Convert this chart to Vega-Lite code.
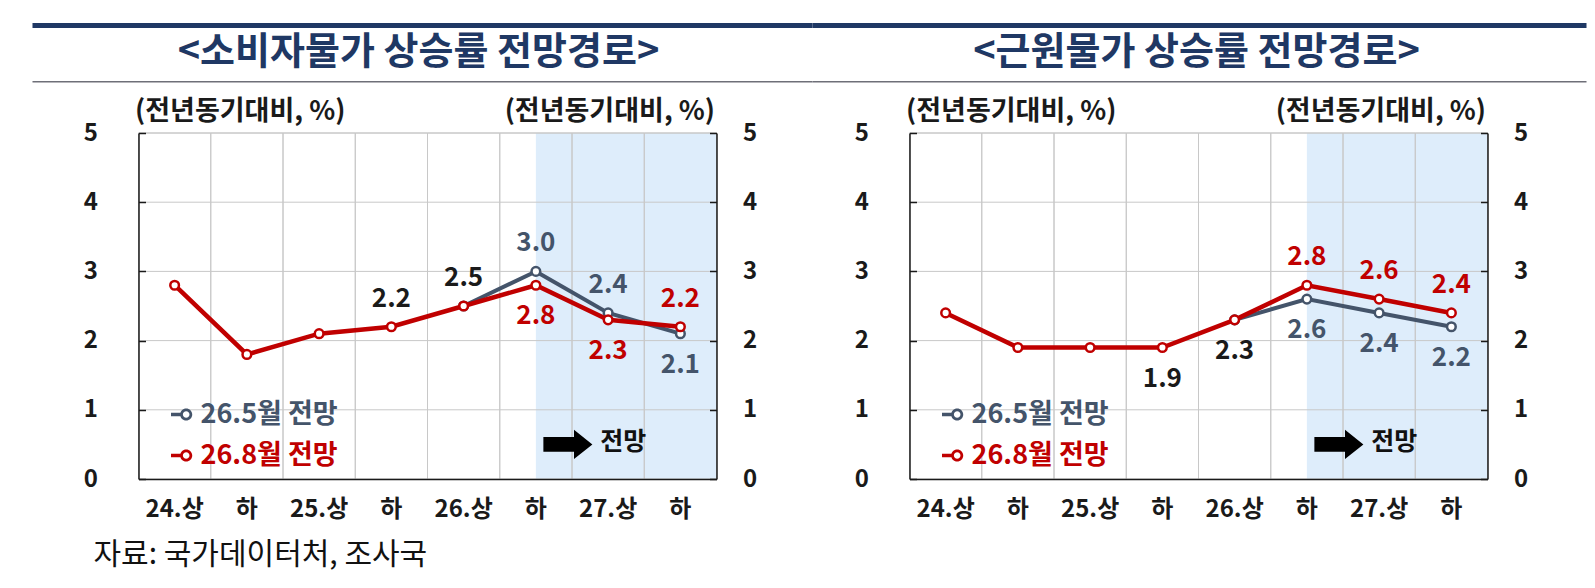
{
  "$schema": "https://vega.github.io/schema/vega-lite/v6.json",
  "background": "white",
  "padding": {"left": 29.5, "top": 23, "right": 0, "bottom": 15},
  "spacing": 193,
  "bounds": "flush",
  "config": {"view": {"stroke": null}, "font": "Noto Sans CJK KR"},
  "resolve": {"legend": {"color": "independent"}},
  "datasets": {
    "periods": [
      {"period": "24.상"}, {"period": "24.하"}, {"period": "25.상"}, {"period": "25.하"},
      {"period": "26.상"}, {"period": "26.하"}, {"period": "27.상"}, {"period": "27.하"}
    ],
    "hgrid": [{"g": 1}, {"g": 2}, {"g": 3}, {"g": 4}, {"g": 5}],
    "series": [
      {"panel": "cpi", "series": "26.5월 전망", "period": "26.상", "v": 2.5},
      {"panel": "cpi", "series": "26.5월 전망", "period": "26.하", "v": 3.0},
      {"panel": "cpi", "series": "26.5월 전망", "period": "27.상", "v": 2.4},
      {"panel": "cpi", "series": "26.5월 전망", "period": "27.하", "v": 2.1},
      {"panel": "cpi", "series": "26.8월 전망", "period": "24.상", "v": 2.8},
      {"panel": "cpi", "series": "26.8월 전망", "period": "24.하", "v": 1.8},
      {"panel": "cpi", "series": "26.8월 전망", "period": "25.상", "v": 2.1},
      {"panel": "cpi", "series": "26.8월 전망", "period": "25.하", "v": 2.2},
      {"panel": "cpi", "series": "26.8월 전망", "period": "26.상", "v": 2.5},
      {"panel": "cpi", "series": "26.8월 전망", "period": "26.하", "v": 2.8},
      {"panel": "cpi", "series": "26.8월 전망", "period": "27.상", "v": 2.3},
      {"panel": "cpi", "series": "26.8월 전망", "period": "27.하", "v": 2.2},
      {"panel": "core", "series": "26.5월 전망", "period": "26.상", "v": 2.3},
      {"panel": "core", "series": "26.5월 전망", "period": "26.하", "v": 2.6},
      {"panel": "core", "series": "26.5월 전망", "period": "27.상", "v": 2.4},
      {"panel": "core", "series": "26.5월 전망", "period": "27.하", "v": 2.2},
      {"panel": "core", "series": "26.8월 전망", "period": "24.상", "v": 2.4},
      {"panel": "core", "series": "26.8월 전망", "period": "24.하", "v": 1.9},
      {"panel": "core", "series": "26.8월 전망", "period": "25.상", "v": 1.9},
      {"panel": "core", "series": "26.8월 전망", "period": "25.하", "v": 1.9},
      {"panel": "core", "series": "26.8월 전망", "period": "26.상", "v": 2.3},
      {"panel": "core", "series": "26.8월 전망", "period": "26.하", "v": 2.8},
      {"panel": "core", "series": "26.8월 전망", "period": "27.상", "v": 2.6},
      {"panel": "core", "series": "26.8월 전망", "period": "27.하", "v": 2.4}
    ],
    "labels": [
      {"panel": "cpi", "period": "25.하", "v": 2.2, "series": "실적", "side": "above"},
      {"panel": "cpi", "period": "26.상", "v": 2.5, "series": "실적", "side": "above"},
      {"panel": "cpi", "period": "26.하", "v": 3.0, "series": "26.5월 전망", "side": "above"},
      {"panel": "cpi", "period": "26.하", "v": 2.8, "series": "26.8월 전망", "side": "below"},
      {"panel": "cpi", "period": "27.상", "v": 2.4, "series": "26.5월 전망", "side": "above"},
      {"panel": "cpi", "period": "27.상", "v": 2.3, "series": "26.8월 전망", "side": "below"},
      {"panel": "cpi", "period": "27.하", "v": 2.2, "series": "26.8월 전망", "side": "above"},
      {"panel": "cpi", "period": "27.하", "v": 2.1, "series": "26.5월 전망", "side": "below"},
      {"panel": "core", "period": "25.하", "v": 1.9, "series": "실적", "side": "below"},
      {"panel": "core", "period": "26.상", "v": 2.3, "series": "실적", "side": "below"},
      {"panel": "core", "period": "26.하", "v": 2.8, "series": "26.8월 전망", "side": "above"},
      {"panel": "core", "period": "26.하", "v": 2.6, "series": "26.5월 전망", "side": "below"},
      {"panel": "core", "period": "27.상", "v": 2.6, "series": "26.8월 전망", "side": "above"},
      {"panel": "core", "period": "27.상", "v": 2.4, "series": "26.5월 전망", "side": "below"},
      {"panel": "core", "period": "27.하", "v": 2.4, "series": "26.8월 전망", "side": "above"},
      {"panel": "core", "period": "27.하", "v": 2.2, "series": "26.5월 전망", "side": "below"}
    ]
  },
  "hconcat": [
    {
      "width": 578, "height": 346,
      "resolve": {"scale": {"x": "independent", "y": "independent"}},
      "layer": [
        {
          "layer": [
            {"data": {"values": [{}]}, "mark": {"type": "rect", "color": "#deedfb"},
             "encoding": {"x": {"datum": "26.하", "type": "nominal", "scale": {"type": "band", "domain": ["24.상","24.하","25.상","25.하","26.상","26.하","27.상","27.하"], "paddingInner": 0, "paddingOuter": 0}}, "x2": {"value": "width"}}},
            {"data": {"name": "periods"}, "mark": {"type": "rect", "fillOpacity": 0, "stroke": "#c8c8c8", "strokeWidth": 1},
             "encoding": {"x": {"field": "period", "type": "nominal", "scale": {"type": "band", "domain": ["24.상","24.하","25.상","25.하","26.상","26.하","27.상","27.하"], "paddingInner": 0, "paddingOuter": 0},
               "axis": {"orient": "bottom", "grid": false, "ticks": false, "domainColor": "#1a1a1a", "domainWidth": 1.5, "labelPadding": 30, "labelFontSize": 24, "labelFontWeight": "bold", "labelColor": "#1a1a1a", "labelAngle": 0, "labelAlign": "center", "labelExpr": "indexof(datum.value, '하') >= 0 ? '하' : datum.value", "title": null, "zindex": 1}}}},
            {"data": {"name": "hgrid"}, "mark": {"type": "rule", "color": "#c8c8c8", "strokeWidth": 1},
             "encoding": {"y": {"field": "g", "type": "quantitative", "scale": {"domain": [0, 5]},
               "axis": {"orient": "left", "values": [0,1,2,3,4,5], "format": "d", "grid": false, "domainColor": "#1a1a1a", "domainWidth": 1.5, "tickSize": -7, "tickColor": "#1a1a1a", "tickWidth": 1.5, "labelPadding": 48, "labelFontSize": 24, "labelFontWeight": "bold", "labelColor": "#1a1a1a", "title": "(전년동기대비, %)", "titleAngle": 0, "titleAlign": "left", "titleBaseline": "middle", "titleX": -4, "titleY": -22, "titleFontSize": 27, "titleFontWeight": "bold", "titleColor": "#1a1a1a", "zindex": 1}}}},
            {"data": {"name": "series"}, "transform": [{"filter": "datum.panel == 'cpi' && datum.series == '26.5월 전망'"}], "mark": {"type": "line", "strokeWidth": 4},
             "encoding": {"x": {"field": "period", "type": "nominal", "scale": {"type": "band", "domain": ["24.상","24.하","25.상","25.하","26.상","26.하","27.상","27.하"], "paddingInner": 0, "paddingOuter": 0}},
               "y": {"field": "v", "type": "quantitative", "scale": {"domain": [0, 5]}},
               "color": {"field": "series", "type": "nominal", "scale": {"domain": ["실적", "26.5월 전망", "26.8월 전망"], "range": ["#1a1a1a", "#44546a", "#c00000"]},
                 "legend": {"orient": "none", "legendX": 30, "legendY": 268, "direction": "vertical", "title": null, "values": ["26.5월 전망", "26.8월 전망"], "padding": 0, "symbolType": "M-1,-0.16L-0.12,-0.16L-0.12,0.16L-1,0.16Z M0.93,0A0.55,0.55 0 1,1 -0.17,0A0.55,0.55 0 1,1 0.93,0Z M0.68,0A0.3,0.3 0 1,0 0.08,0A0.3,0.3 0 1,0 0.68,0Z", "symbolSize": 484, "symbolStrokeWidth": 0, "labelOffset": 5, "rowPadding": 13, "labelFontSize": 27, "labelFontWeight": "bold", "labelFont": "Noto Sans CJK KR",
                   "encode": {"labels": {"update": {"fill": {"scale": "color", "field": "value"}}}, "symbols": {"update": {"fill": {"scale": "color", "field": "value"}, "strokeWidth": {"value": 0}}}}}}}},
            {"data": {"name": "series"}, "transform": [{"filter": "datum.panel == 'cpi' && datum.series == '26.5월 전망'"}], "mark": {"type": "point", "filled": false, "fill": "white", "opacity": 1, "size": 75, "strokeWidth": 2.5},
             "encoding": {"x": {"field": "period", "type": "nominal", "scale": {"type": "band", "domain": ["24.상","24.하","25.상","25.하","26.상","26.하","27.상","27.하"], "paddingInner": 0, "paddingOuter": 0}},
               "y": {"field": "v", "type": "quantitative", "scale": {"domain": [0, 5]}},
               "color": {"field": "series", "type": "nominal", "scale": {"domain": ["실적", "26.5월 전망", "26.8월 전망"], "range": ["#1a1a1a", "#44546a", "#c00000"]}, "legend": null}}},
            {"data": {"name": "series"}, "transform": [{"filter": "datum.panel == 'cpi' && datum.series == '26.8월 전망'"}], "mark": {"type": "line", "strokeWidth": 4.5},
             "encoding": {"x": {"field": "period", "type": "nominal", "scale": {"type": "band", "domain": ["24.상","24.하","25.상","25.하","26.상","26.하","27.상","27.하"], "paddingInner": 0, "paddingOuter": 0}},
               "y": {"field": "v", "type": "quantitative", "scale": {"domain": [0, 5]}},
               "color": {"field": "series", "type": "nominal", "scale": {"domain": ["실적", "26.5월 전망", "26.8월 전망"], "range": ["#1a1a1a", "#44546a", "#c00000"]}, "legend": null}}},
            {"data": {"name": "series"}, "transform": [{"filter": "datum.panel == 'cpi' && datum.series == '26.8월 전망'"}], "mark": {"type": "point", "filled": false, "fill": "white", "opacity": 1, "size": 75, "strokeWidth": 2.5},
             "encoding": {"x": {"field": "period", "type": "nominal", "scale": {"type": "band", "domain": ["24.상","24.하","25.상","25.하","26.상","26.하","27.상","27.하"], "paddingInner": 0, "paddingOuter": 0}},
               "y": {"field": "v", "type": "quantitative", "scale": {"domain": [0, 5]}},
               "color": {"field": "series", "type": "nominal", "scale": {"domain": ["실적", "26.5월 전망", "26.8월 전망"], "range": ["#1a1a1a", "#44546a", "#c00000"]}, "legend": null}}},
            {"data": {"name": "labels"}, "transform": [{"filter": "datum.panel == 'cpi' && datum.side == 'above'"}], "mark": {"type": "text", "dy": -28, "fontSize": 26, "fontWeight": "bold"},
             "encoding": {"x": {"field": "period", "type": "nominal", "scale": {"type": "band", "domain": ["24.상","24.하","25.상","25.하","26.상","26.하","27.상","27.하"], "paddingInner": 0, "paddingOuter": 0}},
               "y": {"field": "v", "type": "quantitative", "scale": {"domain": [0, 5]}},
               "text": {"field": "v", "type": "quantitative", "format": ".1f"},
               "color": {"field": "series", "type": "nominal", "scale": {"domain": ["실적", "26.5월 전망", "26.8월 전망"], "range": ["#1a1a1a", "#44546a", "#c00000"]}, "legend": null}}},
            {"data": {"name": "labels"}, "transform": [{"filter": "datum.panel == 'cpi' && datum.side == 'below'"}], "mark": {"type": "text", "dy": 31, "fontSize": 26, "fontWeight": "bold"},
             "encoding": {"x": {"field": "period", "type": "nominal", "scale": {"type": "band", "domain": ["24.상","24.하","25.상","25.하","26.상","26.하","27.상","27.하"], "paddingInner": 0, "paddingOuter": 0}},
               "y": {"field": "v", "type": "quantitative", "scale": {"domain": [0, 5]}},
               "text": {"field": "v", "type": "quantitative", "format": ".1f"},
               "color": {"field": "series", "type": "nominal", "scale": {"domain": ["실적", "26.5월 전망", "26.8월 전망"], "range": ["#1a1a1a", "#44546a", "#c00000"]}, "legend": null}}},
            {"data": {"values": [{}]}, "mark": {"type": "point", "shape": "M-1,-0.3L0.25,-0.3L0.25,-0.6L1,0L0.25,0.6L0.25,0.3L-1,0.3Z", "size": 2401, "filled": true, "color": "#000000", "opacity": 1, "xOffset": 32},
             "encoding": {"x": {"datum": "26.하", "type": "nominal", "scale": {"type": "band", "domain": ["24.상","24.하","25.상","25.하","26.상","26.하","27.상","27.하"], "paddingInner": 0, "paddingOuter": 0}},
               "y": {"datum": 0.5, "type": "quantitative", "scale": {"domain": [0, 5]}}}},
            {"data": {"values": [{}]}, "mark": {"type": "text", "text": "전망", "fontSize": 25, "fontWeight": "bold", "color": "#111111", "dx": 15},
             "encoding": {"x": {"datum": "27.상", "type": "nominal", "scale": {"type": "band", "domain": ["24.상","24.하","25.상","25.하","26.상","26.하","27.상","27.하"], "paddingInner": 0, "paddingOuter": 0}},
               "y": {"datum": 0.535, "type": "quantitative", "scale": {"domain": [0, 5]}}}}
          ]
        },
        {
          "data": {"values": [{}]},
          "layer": [
            {"mark": {"type": "rule", "color": "#1f3864", "strokeWidth": 5},
             "encoding": {"x": {"datum": -0.1834, "type": "quantitative", "scale": {"domain": [0, 1]}, "axis": null}, "x2": {"datum": 1.1661},
               "y": {"datum": 6.553, "type": "quantitative", "scale": {"domain": [0, 5]},
                 "axis": {"orient": "right", "values": [0,1,2,3,4,5], "format": "d", "grid": false, "domainColor": "#1a1a1a", "domainWidth": 1.5, "tickSize": -7, "tickColor": "#1a1a1a", "tickWidth": 1.5, "labelPadding": 33, "labelFontSize": 24, "labelFontWeight": "bold", "labelColor": "#1a1a1a", "title": "(전년동기대비, %)", "titleAngle": 0, "titleAlign": "right", "titleBaseline": "middle", "titleX": -2, "titleY": -22, "titleFontSize": 27, "titleFontWeight": "bold", "titleColor": "#1a1a1a", "zindex": 1}}}},
            {"mark": {"type": "rule", "color": "#6e6f78", "strokeWidth": 1.5},
             "encoding": {"x": {"datum": -0.1834, "type": "quantitative", "scale": {"domain": [0, 1]}, "axis": null}, "x2": {"datum": 1.1661},
               "y": {"datum": 5.741, "type": "quantitative", "scale": {"domain": [0, 5]}}}},
            {"mark": {"type": "text", "text": "<소비자물가 상승률 전망경로>", "fontSize": 38, "fontWeight": "bold", "color": "#1f3864", "dx": -9},
             "encoding": {"x": {"datum": 0.5, "type": "quantitative", "scale": {"domain": [0, 1]}, "axis": null},
               "y": {"datum": 6.156, "type": "quantitative", "scale": {"domain": [0, 5]}}}},
            {"mark": {"type": "text", "text": "자료: 국가데이터처, 조사국", "fontSize": 30, "fontWeight": "normal", "align": "left", "baseline": "middle", "color": "#111111"},
             "encoding": {"x": {"datum": -0.0779, "type": "quantitative", "scale": {"domain": [0, 1]}, "axis": null},
               "y": {"datum": -1.1, "type": "quantitative", "scale": {"domain": [0, 5]}}}}
          ]
        }
      ]
    },
    {
      "width": 578, "height": 346,
      "resolve": {"scale": {"x": "independent", "y": "independent"}},
      "layer": [
        {
          "layer": [
            {"data": {"values": [{}]}, "mark": {"type": "rect", "color": "#deedfb"},
             "encoding": {"x": {"datum": "26.하", "type": "nominal", "scale": {"type": "band", "domain": ["24.상","24.하","25.상","25.하","26.상","26.하","27.상","27.하"], "paddingInner": 0, "paddingOuter": 0}}, "x2": {"value": "width"}}},
            {"data": {"name": "periods"}, "mark": {"type": "rect", "fillOpacity": 0, "stroke": "#c8c8c8", "strokeWidth": 1},
             "encoding": {"x": {"field": "period", "type": "nominal", "scale": {"type": "band", "domain": ["24.상","24.하","25.상","25.하","26.상","26.하","27.상","27.하"], "paddingInner": 0, "paddingOuter": 0},
               "axis": {"orient": "bottom", "grid": false, "ticks": false, "domainColor": "#1a1a1a", "domainWidth": 1.5, "labelPadding": 30, "labelFontSize": 24, "labelFontWeight": "bold", "labelColor": "#1a1a1a", "labelAngle": 0, "labelAlign": "center", "labelExpr": "indexof(datum.value, '하') >= 0 ? '하' : datum.value", "title": null, "zindex": 1}}}},
            {"data": {"name": "hgrid"}, "mark": {"type": "rule", "color": "#c8c8c8", "strokeWidth": 1},
             "encoding": {"y": {"field": "g", "type": "quantitative", "scale": {"domain": [0, 5]},
               "axis": {"orient": "left", "values": [0,1,2,3,4,5], "format": "d", "grid": false, "domainColor": "#1a1a1a", "domainWidth": 1.5, "tickSize": -7, "tickColor": "#1a1a1a", "tickWidth": 1.5, "labelPadding": 48, "labelFontSize": 24, "labelFontWeight": "bold", "labelColor": "#1a1a1a", "title": "(전년동기대비, %)", "titleAngle": 0, "titleAlign": "left", "titleBaseline": "middle", "titleX": -4, "titleY": -22, "titleFontSize": 27, "titleFontWeight": "bold", "titleColor": "#1a1a1a", "zindex": 1}}}},
            {"data": {"name": "series"}, "transform": [{"filter": "datum.panel == 'core' && datum.series == '26.5월 전망'"}], "mark": {"type": "line", "strokeWidth": 4},
             "encoding": {"x": {"field": "period", "type": "nominal", "scale": {"type": "band", "domain": ["24.상","24.하","25.상","25.하","26.상","26.하","27.상","27.하"], "paddingInner": 0, "paddingOuter": 0}},
               "y": {"field": "v", "type": "quantitative", "scale": {"domain": [0, 5]}},
               "color": {"field": "series", "type": "nominal", "scale": {"domain": ["실적", "26.5월 전망", "26.8월 전망"], "range": ["#1a1a1a", "#44546a", "#c00000"]},
                 "legend": {"orient": "none", "legendX": 30, "legendY": 268, "direction": "vertical", "title": null, "values": ["26.5월 전망", "26.8월 전망"], "padding": 0, "symbolType": "M-1,-0.16L-0.12,-0.16L-0.12,0.16L-1,0.16Z M0.93,0A0.55,0.55 0 1,1 -0.17,0A0.55,0.55 0 1,1 0.93,0Z M0.68,0A0.3,0.3 0 1,0 0.08,0A0.3,0.3 0 1,0 0.68,0Z", "symbolSize": 484, "symbolStrokeWidth": 0, "labelOffset": 5, "rowPadding": 13, "labelFontSize": 27, "labelFontWeight": "bold", "labelFont": "Noto Sans CJK KR",
                   "encode": {"labels": {"update": {"fill": {"scale": "color", "field": "value"}}}, "symbols": {"update": {"fill": {"scale": "color", "field": "value"}, "strokeWidth": {"value": 0}}}}}}}},
            {"data": {"name": "series"}, "transform": [{"filter": "datum.panel == 'core' && datum.series == '26.5월 전망'"}], "mark": {"type": "point", "filled": false, "fill": "white", "opacity": 1, "size": 75, "strokeWidth": 2.5},
             "encoding": {"x": {"field": "period", "type": "nominal", "scale": {"type": "band", "domain": ["24.상","24.하","25.상","25.하","26.상","26.하","27.상","27.하"], "paddingInner": 0, "paddingOuter": 0}},
               "y": {"field": "v", "type": "quantitative", "scale": {"domain": [0, 5]}},
               "color": {"field": "series", "type": "nominal", "scale": {"domain": ["실적", "26.5월 전망", "26.8월 전망"], "range": ["#1a1a1a", "#44546a", "#c00000"]}, "legend": null}}},
            {"data": {"name": "series"}, "transform": [{"filter": "datum.panel == 'core' && datum.series == '26.8월 전망'"}], "mark": {"type": "line", "strokeWidth": 4.5},
             "encoding": {"x": {"field": "period", "type": "nominal", "scale": {"type": "band", "domain": ["24.상","24.하","25.상","25.하","26.상","26.하","27.상","27.하"], "paddingInner": 0, "paddingOuter": 0}},
               "y": {"field": "v", "type": "quantitative", "scale": {"domain": [0, 5]}},
               "color": {"field": "series", "type": "nominal", "scale": {"domain": ["실적", "26.5월 전망", "26.8월 전망"], "range": ["#1a1a1a", "#44546a", "#c00000"]}, "legend": null}}},
            {"data": {"name": "series"}, "transform": [{"filter": "datum.panel == 'core' && datum.series == '26.8월 전망'"}], "mark": {"type": "point", "filled": false, "fill": "white", "opacity": 1, "size": 75, "strokeWidth": 2.5},
             "encoding": {"x": {"field": "period", "type": "nominal", "scale": {"type": "band", "domain": ["24.상","24.하","25.상","25.하","26.상","26.하","27.상","27.하"], "paddingInner": 0, "paddingOuter": 0}},
               "y": {"field": "v", "type": "quantitative", "scale": {"domain": [0, 5]}},
               "color": {"field": "series", "type": "nominal", "scale": {"domain": ["실적", "26.5월 전망", "26.8월 전망"], "range": ["#1a1a1a", "#44546a", "#c00000"]}, "legend": null}}},
            {"data": {"name": "labels"}, "transform": [{"filter": "datum.panel == 'core' && datum.side == 'above'"}], "mark": {"type": "text", "dy": -28, "fontSize": 26, "fontWeight": "bold"},
             "encoding": {"x": {"field": "period", "type": "nominal", "scale": {"type": "band", "domain": ["24.상","24.하","25.상","25.하","26.상","26.하","27.상","27.하"], "paddingInner": 0, "paddingOuter": 0}},
               "y": {"field": "v", "type": "quantitative", "scale": {"domain": [0, 5]}},
               "text": {"field": "v", "type": "quantitative", "format": ".1f"},
               "color": {"field": "series", "type": "nominal", "scale": {"domain": ["실적", "26.5월 전망", "26.8월 전망"], "range": ["#1a1a1a", "#44546a", "#c00000"]}, "legend": null}}},
            {"data": {"name": "labels"}, "transform": [{"filter": "datum.panel == 'core' && datum.side == 'below'"}], "mark": {"type": "text", "dy": 31, "fontSize": 26, "fontWeight": "bold"},
             "encoding": {"x": {"field": "period", "type": "nominal", "scale": {"type": "band", "domain": ["24.상","24.하","25.상","25.하","26.상","26.하","27.상","27.하"], "paddingInner": 0, "paddingOuter": 0}},
               "y": {"field": "v", "type": "quantitative", "scale": {"domain": [0, 5]}},
               "text": {"field": "v", "type": "quantitative", "format": ".1f"},
               "color": {"field": "series", "type": "nominal", "scale": {"domain": ["실적", "26.5월 전망", "26.8월 전망"], "range": ["#1a1a1a", "#44546a", "#c00000"]}, "legend": null}}},
            {"data": {"values": [{}]}, "mark": {"type": "point", "shape": "M-1,-0.3L0.25,-0.3L0.25,-0.6L1,0L0.25,0.6L0.25,0.3L-1,0.3Z", "size": 2401, "filled": true, "color": "#000000", "opacity": 1, "xOffset": 32},
             "encoding": {"x": {"datum": "26.하", "type": "nominal", "scale": {"type": "band", "domain": ["24.상","24.하","25.상","25.하","26.상","26.하","27.상","27.하"], "paddingInner": 0, "paddingOuter": 0}},
               "y": {"datum": 0.5, "type": "quantitative", "scale": {"domain": [0, 5]}}}},
            {"data": {"values": [{}]}, "mark": {"type": "text", "text": "전망", "fontSize": 25, "fontWeight": "bold", "color": "#111111", "dx": 15},
             "encoding": {"x": {"datum": "27.상", "type": "nominal", "scale": {"type": "band", "domain": ["24.상","24.하","25.상","25.하","26.상","26.하","27.상","27.하"], "paddingInner": 0, "paddingOuter": 0}},
               "y": {"datum": 0.535, "type": "quantitative", "scale": {"domain": [0, 5]}}}}
          ]
        },
        {
          "data": {"values": [{}]},
          "layer": [
            {"mark": {"type": "rule", "color": "#1f3864", "strokeWidth": 5},
             "encoding": {"x": {"datum": -0.1678, "type": "quantitative", "scale": {"domain": [0, 1]}, "axis": null}, "x2": {"datum": 1.1713},
               "y": {"datum": 6.553, "type": "quantitative", "scale": {"domain": [0, 5]},
                 "axis": {"orient": "right", "values": [0,1,2,3,4,5], "format": "d", "grid": false, "domainColor": "#1a1a1a", "domainWidth": 1.5, "tickSize": -7, "tickColor": "#1a1a1a", "tickWidth": 1.5, "labelPadding": 33, "labelFontSize": 24, "labelFontWeight": "bold", "labelColor": "#1a1a1a", "title": "(전년동기대비, %)", "titleAngle": 0, "titleAlign": "right", "titleBaseline": "middle", "titleX": -2, "titleY": -22, "titleFontSize": 27, "titleFontWeight": "bold", "titleColor": "#1a1a1a", "zindex": 1}}}},
            {"mark": {"type": "rule", "color": "#6e6f78", "strokeWidth": 1.5},
             "encoding": {"x": {"datum": -0.1678, "type": "quantitative", "scale": {"domain": [0, 1]}, "axis": null}, "x2": {"datum": 1.1713},
               "y": {"datum": 5.741, "type": "quantitative", "scale": {"domain": [0, 5]}}}},
            {"mark": {"type": "text", "text": "<근원물가 상승률 전망경로>", "fontSize": 38, "fontWeight": "bold", "color": "#1f3864", "dx": -2},
             "encoding": {"x": {"datum": 0.5, "type": "quantitative", "scale": {"domain": [0, 1]}, "axis": null},
               "y": {"datum": 6.156, "type": "quantitative", "scale": {"domain": [0, 5]}}}}
          ]
        }
      ]
    }
  ]
}
